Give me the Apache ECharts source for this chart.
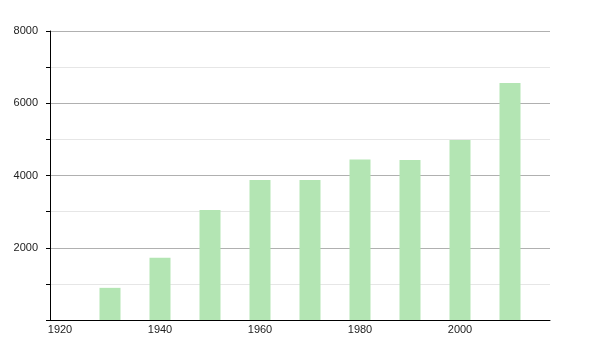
<!DOCTYPE html>
<html>
<head>
<meta charset="utf-8">
<script src="https://cdn.jsdelivr.net/npm/echarts@6/dist/echarts.min.js"></script>
<style>html,body{margin:0;padding:0;background:#fff;}#c{width:600px;height:350px;}</style>
</head>
<body>
<div id="c"></div>
<script>
const years = [1930, 1940, 1950, 1960, 1970, 1980, 1990, 2000, 2010];
const values = [890, 1720, 3045, 3875, 3875, 4440, 4430, 4985, 6560];
const xTickLabels = [1920, 1940, 1960, 1980, 2000];
const yTickLabels = [2000, 4000, 6000, 8000];

const chart = echarts.init(document.getElementById('c'), null, {renderer: 'canvas'});
chart.setOption({
  animation: false,
  grid: {left: 50, right: 50, top: 31, bottom: 30, containLabel: false},
  xAxis: {
    type: 'value', min: 1918, max: 2018,
    axisLine: {show: true, lineStyle: {color: '#000', width: 1}},
    axisTick: {show: false},
    splitLine: {show: false},
    axisLabel: {
      customValues: xTickLabels,
      color: '#222', fontFamily: 'Liberation Sans, Arial, sans-serif', fontSize: 11, margin: 4,
      formatter: v => String(v)
    }
  },
  yAxis: {
    type: 'value', min: 0, max: 8000, interval: 2000,
    axisLine: {show: true, lineStyle: {color: '#000', width: 1}},
    axisTick: {show: true, length: 4, lineStyle: {color: '#000'}},
    minorTick: {show: true, splitNumber: 2, length: 4, lineStyle: {color: '#000'}},
    splitLine: {show: true, lineStyle: {color: '#b0b0b0', width: 1}},
    minorSplitLine: {show: true, lineStyle: {color: '#e6e6e6', width: 1}},
    axisLabel: {
      color: '#222', fontFamily: 'Liberation Sans, Arial, sans-serif', fontSize: 11, margin: 12,
      formatter: v => (yTickLabels.indexOf(v) >= 0 ? String(v) : '')
    }
  },
  series: [{
    type: 'bar',
    data: years.map((y, i) => [y, values[i]]),
    barWidth: 21,
    itemStyle: {color: '#b3e5b3'}
  }]
});
</script>
</body>
</html>
